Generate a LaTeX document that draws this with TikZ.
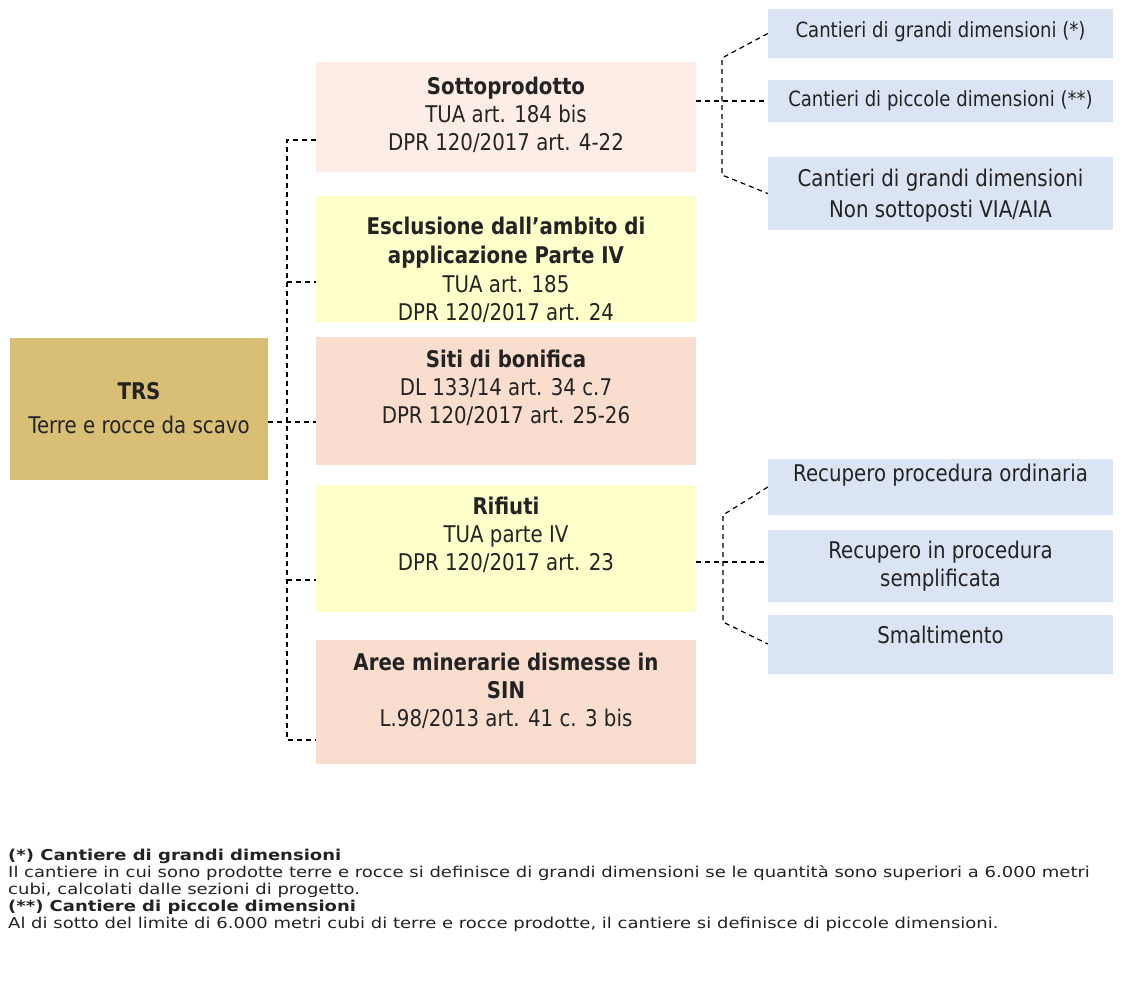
\documentclass[tikz,border=0pt]{standalone}
\usepackage{fontspec}
\setmainfont{DejaVu Sans}[FakeStretch=0.86]
\newfontfamily\fnfont{DejaVu Sans}[FakeStretch=1.2]
\definecolor{trsc}{RGB}{217,191,117}
\definecolor{peach}{RGB}{252,238,230}
\definecolor{yel}{RGB}{255,255,204}
\definecolor{salm}{RGB}{249,222,208}
\definecolor{blu}{RGB}{219,228,243}
\definecolor{ink}{RGB}{35,35,35}
\tikzset{
  box/.style={rectangle, inner sep=0pt, draw=none},
  txt/.style={inner sep=0pt, align=center, text=ink, font=\fontsize{23}{28}\selectfont},
  rtxt/.style={inner sep=0pt, align=center, text=ink, font=\fontsize{23}{31}\selectfont},
  stxt/.style={inner sep=0pt, align=center, text=ink, font=\fontsize{21}{24}\selectfont},
  conn/.style={draw=black, line width=1.2pt, dash pattern=on 5pt off 4pt},
  fn/.style={inner sep=0pt, anchor=base west, text=ink, font=\fnfont\fontsize{15}{16}\selectfont},
}
\begin{document}
\begin{tikzpicture}[x=1pt,y=-1pt]
\useasboundingbox (0,0) rectangle (1148,981);
\fill[white] (0,0) rectangle (1148,981);

% main box
\node[box, fill=trsc, minimum width=258pt, minimum height=142pt] (trs) at (139,409) {};
\node[txt] (trst) at (139,408) {\textbf{TRS}\\[6pt]Terre e rocce da scavo};

% middle boxes
\node[box, fill=peach, minimum width=380pt, minimum height=110pt] (sotto) at (506,117) {};
\node[txt] (sottot) at (506,115) {\textbf{Sottoprodotto}\\TUA art. 184 bis\\DPR 120/2017 art. 4-22};

\node[box, fill=yel, minimum width=380pt, minimum height=126pt] (escl) at (506,259) {};
\begin{scope}
\clip (escl.south west) rectangle (escl.north east);
\node[txt, font=\fontsize{23}{28.7}\selectfont] (esclt) at (506,270) {\textbf{Esclusione dall’ambito di}\\\textbf{applicazione Parte IV}\\TUA art. 185\\DPR 120/2017 art. 24};
\end{scope}

\node[box, fill=salm, minimum width=380pt, minimum height=127pt] (siti) at (506,401) {};
\node[txt] (sitit) at (506,388) {\textbf{Siti di bonifica}\\DL 133/14 art. 34 c.7\\DPR 120/2017 art. 25-26};

\node[box, fill=yel, minimum width=380pt, minimum height=127pt] (rif) at (506,548) {};
\node[txt] (rift) at (506,535) {\textbf{Rifiuti}\\TUA parte IV\\DPR 120/2017 art. 23};

\node[box, fill=salm, minimum width=380pt, minimum height=124pt] (aree) at (506,702) {};
\node[txt] (areet) at (506,691) {\textbf{Aree minerarie dismesse in}\\\textbf{SIN}\\L.98/2013 art. 41 c. 3 bis};

% right boxes
\node[box, fill=blu, minimum width=345pt, minimum height=49pt] (g1) at (940.5,33.5) {};
\node[stxt] (g1t) at (940.5,32) {Cantieri di grandi dimensioni (*)};
\node[box, fill=blu, minimum width=345pt, minimum height=42pt] (p1) at (940.5,101) {};
\node[stxt] (p1t) at (940.5,101) {Cantieri di piccole dimensioni (**)};
\node[box, fill=blu, minimum width=345pt, minimum height=73pt] (g2) at (940.5,193.5) {};
\node[rtxt] (g2t) at (940.5,196) {Cantieri di grandi dimensioni\\Non sottoposti VIA/AIA};

\node[box, fill=blu, minimum width=345pt, minimum height=56pt] (r1) at (940.5,487) {};
\node[rtxt] (r1t) at (940.5,475) {Recupero procedura ordinaria};
\node[box, fill=blu, minimum width=345pt, minimum height=72pt] (r2) at (940.5,566) {};
\node[rtxt, font=\fontsize{23}{28}\selectfont] (r2t) at (940.5,566) {Recupero in procedura\\semplificata};
\node[box, fill=blu, minimum width=345pt, minimum height=59pt] (r3) at (940.5,644) {};
\node[rtxt] (r3t) at (940.5,635) {Smaltimento};

% left trunk
\coordinate (tx) at (287,0);
\coordinate (sA) at ([yshift=-23pt]sotto.west);
\coordinate (eA) at ([yshift=-23pt]escl.west);
\coordinate (tA) at ([yshift=-13pt]trs.east);
\coordinate (rA) at ([yshift=-32pt]rif.west);
\coordinate (aA) at ([yshift=-38pt]aree.west);
\draw[conn] (sA) -- (sA -| tx) -- (aA -| tx) -- (aA);
\draw[conn] (eA -| tx) -- (eA);
\draw[conn] (rA -| tx) -- (rA);
\draw[conn] (tA) -- (tA -| siti.west);

% right branch top
\coordinate (b1t) at (722,58);
\coordinate (b1b) at (722,175);
\draw[conn] (sotto.east |- p1.west) -- (p1.west);
\draw[conn] (g1.west) -- (b1t) -- (b1b) -- (g2.west);

% right branch bottom
\coordinate (b2t) at (723,515);
\coordinate (b2b) at (723,622);
\draw[conn] (rif.east |- 0,562) -- (r2.west |- 0,562);
\draw[conn] (r1.west) -- (b2t) -- (b2b) -- (r3.west);

% footnotes
\node[fn] (f1) at (8,860) {\textbf{(*) Cantiere di grandi dimensioni}};
\node[fn] (f2) at (8,877) {Il cantiere in cui sono prodotte terre e rocce si definisce di grandi dimensioni se le quantità sono superiori a 6.000 metri};
\node[fn] (f3) at (8,894) {cubi, calcolati dalle sezioni di progetto.};
\node[fn] (f4) at (8,911) {\textbf{(**) Cantiere di piccole dimensioni}};
\node[fn] (f5) at (8,928) {Al di sotto del limite di 6.000 metri cubi di terre e rocce prodotte, il cantiere si definisce di piccole dimensioni.};
\end{tikzpicture}
\end{document}
